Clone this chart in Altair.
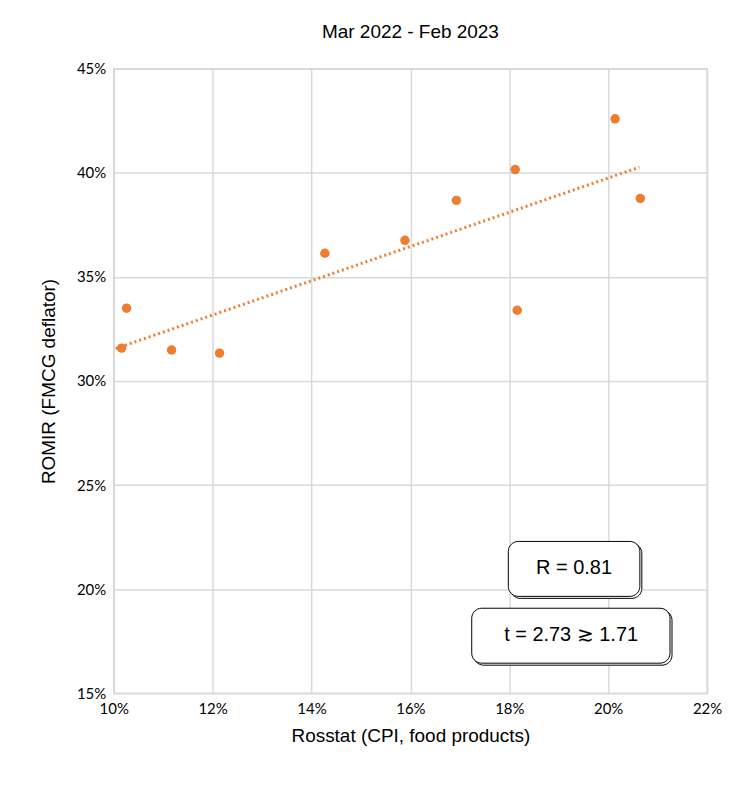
import altair as alt
import pandas as pd

cpi = [10.16, 10.26, 11.17, 12.14, 14.27, 15.89, 16.93, 18.12, 18.16, 20.14, 20.65]
romir = [31.58, 33.5, 31.49, 31.34, 36.14, 36.76, 38.68, 40.16, 33.40, 42.6, 38.77]
df = pd.DataFrame({"x": cpi, "y": romir})

box_labels = ["R = 0.81", "t = 2.73  ≳  1.71"]
box_x1 = [17.98, 17.24]
box_x2 = [20.64, 21.25]
box_y1 = [22.29, 19.08]
box_y2 = [19.65, 16.44]
box_tx = [19.31, 19.25]
box_ty = [20.99, 17.80]
bdf = pd.DataFrame({"l": box_labels, "x1": box_x1, "x2": box_x2, "y1": box_y1, "y2": box_y2,
                    "tx": box_tx, "ty": box_ty})

xs = alt.Scale(domain=[10, 22], nice=False, zero=False)
ys = alt.Scale(domain=[15, 45], nice=False, zero=False)

base = alt.Chart(df)
pts = base.mark_circle(size=90, color="#ED7D31", opacity=1).encode(
    x=alt.X("x:Q", scale=xs, title="Rosstat (CPI, food products)",
            axis=alt.Axis(values=list(range(10, 23, 2)), labelExpr="datum.value + '%'",
                          titlePadding=10, labelFlush=False)),
    y=alt.Y("y:Q", scale=ys, title="ROMIR (FMCG deflator)",
            axis=alt.Axis(values=list(range(15, 46, 5)), labelExpr="datum.value + '%'",
                          titlePadding=18, labelFlush=False)),
)
trend = base.transform_regression("x", "y", extent=[10.04, 20.63]).mark_line(
    color="#ED7D31", strokeDash=[2, 3], strokeWidth=3).encode(
    x=alt.X("x:Q", scale=xs), y=alt.Y("y:Q", scale=ys))

b = alt.Chart(bdf)
shadow = b.mark_rect(fill="white", stroke="black", strokeWidth=1, cornerRadius=10,
                     xOffset=2, yOffset=2, x2Offset=2, y2Offset=2).encode(
    x=alt.X("x1:Q", scale=xs), x2="x2", y=alt.Y("y1:Q", scale=ys), y2="y2")
box = b.mark_rect(fill="white", stroke="black", strokeWidth=1, cornerRadius=10).encode(
    x=alt.X("x1:Q", scale=xs), x2="x2", y=alt.Y("y1:Q", scale=ys), y2="y2")
txt = b.mark_text(fontSize=20, font="Liberation Sans", color="black").encode(
    x=alt.X("tx:Q", scale=xs), y=alt.Y("ty:Q", scale=ys), text="l:N")

chart = (trend + pts + shadow + box + txt).properties(
    width=595, height=626,
    title=alt.TitleParams("Mar 2022 - Feb 2023", fontSize=19, font="Liberation Sans",
                          fontWeight="normal", offset=20),
    padding={"left": 31, "top": 14, "right": 20, "bottom": 5},
).configure_axis(
    grid=True, gridColor="#D9D9D9", gridWidth=1.5, domain=False, ticks=False,
    labelFont="Lato", labelFontSize=15, labelColor="#000", labelPadding=8,
    titleFont="Liberation Sans", titleFontSize=19, titleFontWeight="normal", titleColor="#000",
).configure_view(stroke="#D9D9D9", strokeWidth=1.5)

chart.save("out.html", embed_options={"renderer": "svg", "actions": False})
